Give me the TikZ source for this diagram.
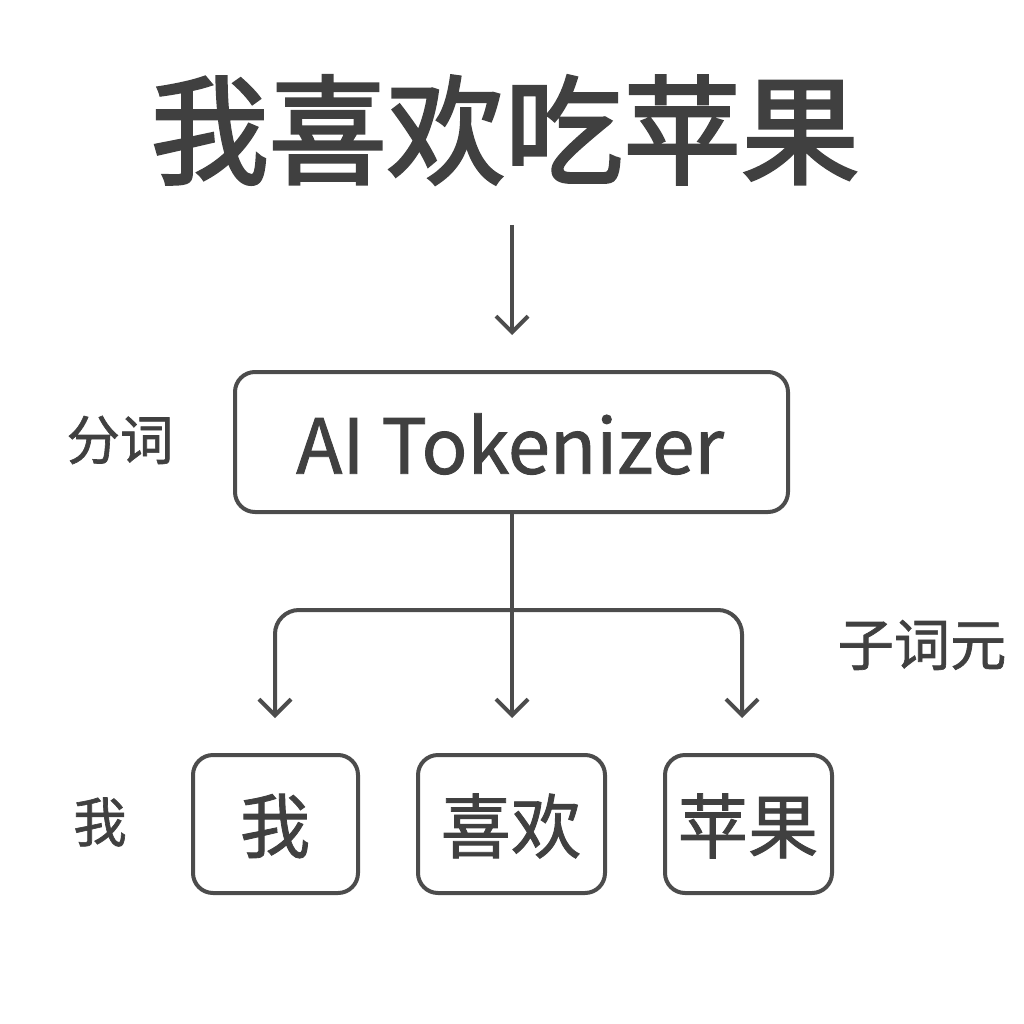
\documentclass[tikz,border=0pt]{standalone}
\usepackage{fontspec}
\setmainfont{Noto Sans CJK SC}
\newfontfamily\medf[FakeBold=1.2]{Noto Sans CJK SC}
\newfontfamily\titf[FakeBold=2.5]{Noto Sans CJK SC}
\usetikzlibrary{arrows.meta}
\begin{document}
\begin{tikzpicture}[x=0.25mm,y=-0.25mm,
  ln/.style={draw=black!70,line width=1mm},
  arr/.style={ln,-{Straight Barb[length=4mm,width=8mm]}},
  box/.style={ln,rounded corners=5mm,text=black!75},
  lbl/.style={text=black!75,font=\medf\fontsize{38}{42}\selectfont}]
\useasboundingbox (0,0) rectangle (1024,1024);
\node[text=black!75,font=\titf\fontsize{84}{88}\selectfont] (title) at (505,130) {我喜欢吃苹果};
\coordinate (a1) at (512,225);
\coordinate (a2) at (512,335);
\draw[arr] (a1) -- (a2);
\draw[box] (235,372) rectangle (788,512);
\node[text=black!75,font=\medf\fontsize{54}{58}\selectfont] (tok) at (510,444) {AI Tokenizer};
\node[lbl] (fc) at (120,440) {分词};
\node[lbl,font=\medf\fontsize{40}{44}\selectfont] (zc) at (922,645) {子词元};
\node[lbl] (wl) at (100,822) {我};
\coordinate (t) at (512,512);
\coordinate (j) at (512,610);
\coordinate (e1) at (275,718);
\coordinate (e2) at (512,718);
\coordinate (e3) at (742,718);
\draw[ln] (t) -- (j);
\draw[arr,rounded corners=6mm] (j) -- (275,610) -- (e1);
\draw[arr,rounded corners=6mm] (j) -- (742,610) -- (e3);
\draw[arr] (j) -- (e2);
\draw[box] (193,755) rectangle (358,893);
\draw[box] (418,755) rectangle (605,893);
\draw[box] (665,755) rectangle (832,893);
\node[text=black!75,font=\medf\fontsize{50}{54}\selectfont] (b1) at (275,826) {我};
\node[text=black!75,font=\medf\fontsize{50}{54}\selectfont] (b2) at (511,826) {喜欢};
\node[text=black!75,font=\medf\fontsize{50}{54}\selectfont] (b3) at (748,826) {苹果};
\end{tikzpicture}
\end{document}
